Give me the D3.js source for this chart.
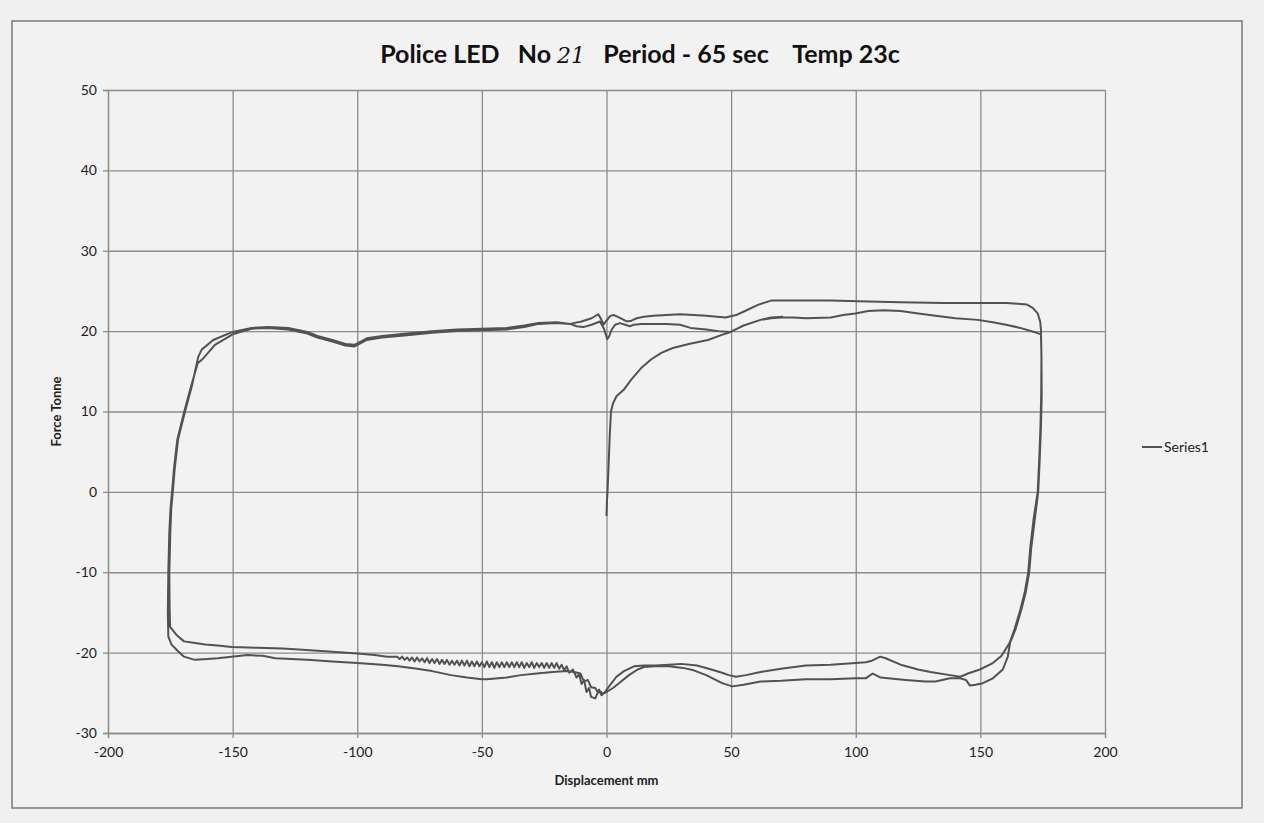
<!DOCTYPE html>
<html>
<head>
<meta charset="utf-8">
<script src="https://cdn.jsdelivr.net/npm/d3@7"></script>
<style>
  body { margin: 0; background: #f0f0f0; }
  svg { display: block; }
</style>
</head>
<body>
<script>
'use strict';

// Tick labels
var xTicks = [-200, -150, -100, -50, 0, 50, 100, 150, 200];
var yTicks = [-30, -20, -10, 0, 10, 20, 30, 40, 50];

// Series1, [displacement mm, force tonne], in path order
var rise1 = [[0,-3],[0.2,-1],[0.4,0],[0.8,3],[1.3,7],[1.8,10],[2.6,11],[4,11.9],[6.9,12.7],[10,14],
  [13.9,15.4],[18,16.5],[22,17.3],[26.6,17.9],[33,18.4],[40.7,18.9],[46,19.5],[49.8,19.9],[55,20.7],
  [61.8,21.4],[66,21.6],[70.3,21.7]];
var topRightLow = [[75,21.7],[80,21.6],[90,21.7],[95,22],[99.8,22.2],[105,22.5],[111,22.6],[118,22.5],
  [125.1,22.2],[132,21.9],[140,21.6],[149,21.4],[155,21.1],[160.3,20.8],[166,20.4],[171.5,19.9],[174.3,19.6]];
var rightDown1 = [[174.5,17],[174.4,12],[174.1,8],[173.6,4],[173,0],[171.3,-3.5],[170,-7],[169.2,-10],
  [167.8,-12.5],[166,-14.7],[163.8,-17],[161.7,-18.8],[158.5,-20.4],[155,-21.3],[149.8,-22.1],[145,-22.6],[142,-23]];
var bottomRightU = [[137.8,-22.8],[130,-22.4],[125,-22.1],[118,-21.5],[112,-20.7],[109.8,-20.5],[106.5,-21],
  [104,-21.2],[100,-21.3],[90,-21.5],[80,-21.6],[70,-22],[61.8,-22.4],[56,-22.8],[52,-23],[49,-22.8],
  [46.4,-22.5],[41,-22],[36.3,-21.6],[30,-21.4],[25,-21.5],[19.5,-21.6],[15,-21.6],[11,-21.7],[7,-22.3],
  [4,-23],[1.5,-24],[-0.6,-24.9]];
var bottomLeftB1 = [[-2,-25.3],[-3,-24.6],[-4.5,-25.7],[-6.2,-25.5],[-7,-24.4],[-8,-24.9],[-9,-23.4],
  [-10,-23.9],[-11,-22.7],[-12,-23.1],[-13.5,-22.1],[-15,-22.5],[-16,-21.7],[-17,-22.2],[-18,-21.5],[-19,-22],
  [-20,-21.3],[-21,-21.9],[-22,-21.3],[-23,-21.9],[-24,-21.3],[-25,-21.9],[-26,-21.3],[-27,-21.8],[-28,-21.3],
  [-29,-21.9],[-30,-21.2],[-31,-21.8],[-32,-21.3],[-33,-21.9],[-34,-21.2],[-35,-21.8],[-36,-21.2],[-37,-21.8],
  [-38,-21.2],[-39,-21.8],[-40,-21.2],[-41,-21.8],[-42,-21.2],[-43,-21.8],[-44,-21.2],[-45,-21.9],[-46,-21.2],
  [-47,-21.8],[-48,-21.1],[-49,-21.8],[-50,-21.2],[-51,-21.7],[-52,-21.1],[-53,-21.7],[-54,-21.1],[-55,-21.7],
  [-56,-21.0],[-57,-21.6],[-58,-21.0],[-59,-21.6],[-60,-21.0],[-61,-21.5],[-62,-21.0],[-63,-21.5],[-64,-20.9],
  [-65,-21.4],[-66,-20.9],[-67,-21.4],[-68,-20.8],[-69,-21.3],[-70,-20.8],[-71,-21.3],[-72,-20.7],[-73,-21.2],
  [-74,-20.7],[-75,-21.1],[-76,-20.6],[-77,-21.1],[-78,-20.6],[-79,-21.0],[-80,-20.6],[-81,-20.9],[-82,-20.5],
  [-83,-20.8],[-84,-20.5],[-88,-20.5],[-93,-20.3],[-100,-20.1],[-110,-19.9],[-118.8,-19.7],[-130,-19.5],
  [-140,-19.4],[-150.4,-19.3],[-156,-19.1],[-161,-19],[-165,-18.8],[-169.5,-18.6],[-172.5,-17.8],[-175.1,-16.8]];
var leftUp1 = [[-175.3,-14],[-175.4,-10],[-175,-5],[-174.6,-2],[-174,0],[-173.2,3],[-171.9,6.5],[-169.1,10],
  [-166.4,13.1],[-163.8,16.8],[-162.4,17.7],[-157.8,18.9],[-150,19.9],[-142.4,20.4],[-135.7,20.5]];
var topLeft1 = [[-127.7,20.4],[-120,19.9],[-116,19.4],[-110,18.9],[-104.7,18.4],[-101.1,18.3],[-98,18.8],
  [-96.2,19.1],[-90,19.4],[-80,19.7],[-70,20],[-60,20.2],[-50,20.3],[-40,20.4],[-33,20.7],[-27.2,21],[-20,21.1]];
var topPassUpper = [[-14.6,20.9],[-10,21.2],[-6,21.6],[-3.3,22.1],[-2,21.4],[-1.2,20.8],[0,21.3],[1.5,21.9],
  [3,22],[5,21.7],[8.1,21.2],[10,21.3],[12.1,21.6],[15,21.8],[18.8,21.9],[24,22],[29.5,22.1],[35,22],[40,21.9],
  [47.7,21.7],[52,22],[56.2,22.6],[61,23.3],[66,23.8],[75,23.8],[90,23.8],[105,23.7],[118.1,23.6],[135,23.5],
  [150,23.5],[160.3,23.5],[165,23.4],[168.7,23.3],[171,22.9],[173,22.2],[174,21.2],[174.3,20.2]];
var rightDown2 = [[174.5,17],[174.6,12],[174.3,8],[173.8,4],[173.2,0],[171.8,-3.5],[170.4,-7],[169.6,-10],
  [168.2,-12.5],[166.4,-14.7],[164.2,-17],[161.9,-18.8],[161,-20.5],[159,-22.1],[155,-23.2],[151,-23.8],
  [148,-24],[145.8,-24.1],[144.2,-23.4],[142,-23.2]];
var bottomRightL = [[137.8,-23.2],[132,-23.6],[128,-23.6],[120,-23.4],[110,-23.1],[106.8,-22.6],[104,-23.2],
  [100,-23.2],[90,-23.3],[80,-23.3],[70,-23.5],[61.8,-23.6],[55,-24],[50.5,-24.2],[46.4,-23.8],[40,-22.8],
  [35,-22.2],[30.7,-21.9],[25,-21.7],[19.5,-21.7],[15,-21.8],[12.5,-22.1],[9,-22.8],[5,-23.8],[2.6,-24.4],[-0.6,-25]];
var bottomLeftB2 = [[-1.5,-25.1],[-2.5,-24.8],[-3.4,-25],[-4.5,-24.4],[-6.2,-24.3],[-7.5,-23.4],[-9,-23.6],
  [-10.5,-22.6],[-13,-22.4],[-16,-22.3],[-21.6,-22.4],[-28,-22.6],[-34.3,-22.8],[-40,-23.1],[-48,-23.3],
  [-50,-23.3],[-56,-23.1],[-62.4,-22.8],[-70,-22.3],[-76,-22],[-83.6,-21.7],[-90,-21.5],[-100,-21.3],
  [-110,-21.1],[-120,-20.9],[-132.8,-20.7],[-138,-20.4],[-144,-20.3],[-150.4,-20.5],[-156,-20.7],[-160,-20.8],
  [-165.2,-20.9],[-169.5,-20.5],[-172,-19.8],[-174.5,-19],[-175.8,-18]];
var leftUp2 = [[-176,-15],[-175.8,-10],[-175.4,-5],[-174.9,-2],[-174.3,0],[-173.5,3],[-172.2,6.5],[-169.4,10],
  [-166.7,13.1],[-164,16],[-161.8,16.6],[-157.1,18.3],[-150,19.6],[-142.4,20.3],[-135.7,20.4]];
var topLeft2 = [[-127.7,20.2],[-120,19.7],[-116,19.2],[-110,18.7],[-104.7,18.2],[-101.1,18.1],[-98,18.6],
  [-96.2,18.9],[-90,19.2],[-80,19.5],[-70,19.8],[-60,20],[-50,20.1],[-40,20.2],[-33,20.5],[-27.2,20.9],[-20,21],[-14.6,20.9]];
var topPassLower = [[-12,20.6],[-9.3,20.5],[-6,20.8],[-2.6,21.2],[-1,20.3],[0.3,19],[1,19.3],[2.1,20.2],
  [3.5,20.8],[5.4,21],[7.5,20.8],[9.4,20.6],[11,20.8],[14,20.9],[18.8,20.9],[24,20.9],[29.5,20.8],[33.7,20.4],
  [40,20.2],[45,20],[49.8,19.9],[55,20.7],[61.8,21.4],[66,21.7],[70.9,21.8]];

var series1 = [].concat(rise1, topRightLow, rightDown1, bottomRightU, bottomLeftB1, leftUp1, topLeft1,
  topPassUpper, rightDown2, bottomRightL, bottomLeftB2, leftUp2, topLeft2, topPassLower);

var width = 1264, height = 823;
var plot = { left: 108, top: 90, right: 1105, bottom: 733 };
var font = "Lato, 'Open Sans', sans-serif";
var ink = "#222";
var gridColor = "#8c8c8c";

var svg = d3.select("body").append("svg")
    .attr("width", width)
    .attr("height", height);

// paper + chart border
svg.append("rect")
    .attr("x", 0).attr("y", 0).attr("width", width).attr("height", height)
    .attr("fill", "#f0f0f0");
svg.append("rect")
    .attr("x", 12).attr("y", 21).attr("width", 1230).attr("height", 787)
    .attr("fill", "#f2f2f2")
    .attr("stroke", "#7a7a7a").attr("stroke-width", 1.5);

var x = d3.scaleLinear().domain([-200, 200]).range([plot.left, plot.right]);
var y = d3.scaleLinear().domain([-30, 50]).range([plot.bottom, plot.top]);

// Excel prints a plain hyphen for negatives
var plain = function(d) { return String(d); };

// gridlines
var grid = svg.append("g");
grid.append("g")
    .attr("transform", "translate(0," + plot.bottom + ")")
    .call(d3.axisBottom(x).tickValues(xTicks).tickSize(-(plot.bottom - plot.top)).tickFormat(""))
    .call(function(g) { g.select(".domain").remove(); });
grid.append("g")
    .attr("transform", "translate(" + plot.left + ",0)")
    .call(d3.axisLeft(y).tickValues(yTicks).tickSize(-(plot.right - plot.left)).tickFormat(""))
    .call(function(g) { g.select(".domain").remove(); });
grid.selectAll("line").attr("stroke", gridColor).attr("stroke-width", 1.3);

// axes with tick labels
var xAxis = svg.append("g")
    .attr("transform", "translate(0," + y(-30) + ")")
    .call(d3.axisBottom(x).tickValues(xTicks).tickFormat(plain).tickSize(5).tickPadding(9));
var yAxis = svg.append("g")
    .attr("transform", "translate(" + x(-200) + ",0)")
    .call(d3.axisLeft(y).tickValues(yTicks).tickFormat(plain).tickSize(5).tickPadding(6));
[xAxis, yAxis].forEach(function(a) {
  a.select(".domain").attr("stroke", gridColor).attr("stroke-width", 1.3);
  a.selectAll(".tick line").attr("stroke", gridColor).attr("stroke-width", 1.3);
  a.selectAll(".tick text")
      .attr("font-family", font).attr("font-size", 14).attr("fill", ink);
});

// the loop
var line = d3.line()
    .x(function(d) { return x(d[0]); })
    .y(function(d) { return y(d[1]); });
svg.append("path")
    .datum(series1)
    .attr("d", line)
    .attr("fill", "none")
    .attr("stroke", "#525252")
    .attr("stroke-width", 2)
    .attr("stroke-linejoin", "round");

// title
var title = svg.append("text")
    .attr("x", 640).attr("y", 63)
    .attr("text-anchor", "middle")
    .attr("font-family", font).attr("font-size", 25).attr("font-weight", "bold")
    .attr("fill", "#111")
    .attr("xml:space", "preserve");
title.append("tspan").text("Police LED   No ");
title.append("tspan")
    .attr("font-family", "'DejaVu Serif', serif").attr("font-style", "italic")
    .attr("font-weight", "normal").attr("font-size", 22)
    .text("21");
title.append("tspan").text("   Period - 65 sec    Temp 23c");

// axis titles
svg.append("text")
    .attr("x", x(0)).attr("y", 785)
    .attr("text-anchor", "middle")
    .attr("font-family", font).attr("font-size", 13).attr("font-weight", "bold")
    .attr("fill", ink)
    .text("Displacement mm");
svg.append("text")
    .attr("transform", "translate(61," + ((plot.top + plot.bottom) / 2) + ") rotate(-90)")
    .attr("text-anchor", "middle")
    .attr("font-family", font).attr("font-size", 13).attr("font-weight", "bold")
    .attr("fill", ink)
    .text("Force Tonne");

// legend
var legend = svg.append("g").attr("transform", "translate(1142,447)");
legend.append("line")
    .attr("x1", 0).attr("x2", 20).attr("y1", 0).attr("y2", 0)
    .attr("stroke", "#525252").attr("stroke-width", 2);
legend.append("text")
    .attr("x", 22).attr("y", 5)
    .attr("font-family", font).attr("font-size", 14)
    .attr("fill", ink)
    .text("Series1");
</script>
</body>
</html>
